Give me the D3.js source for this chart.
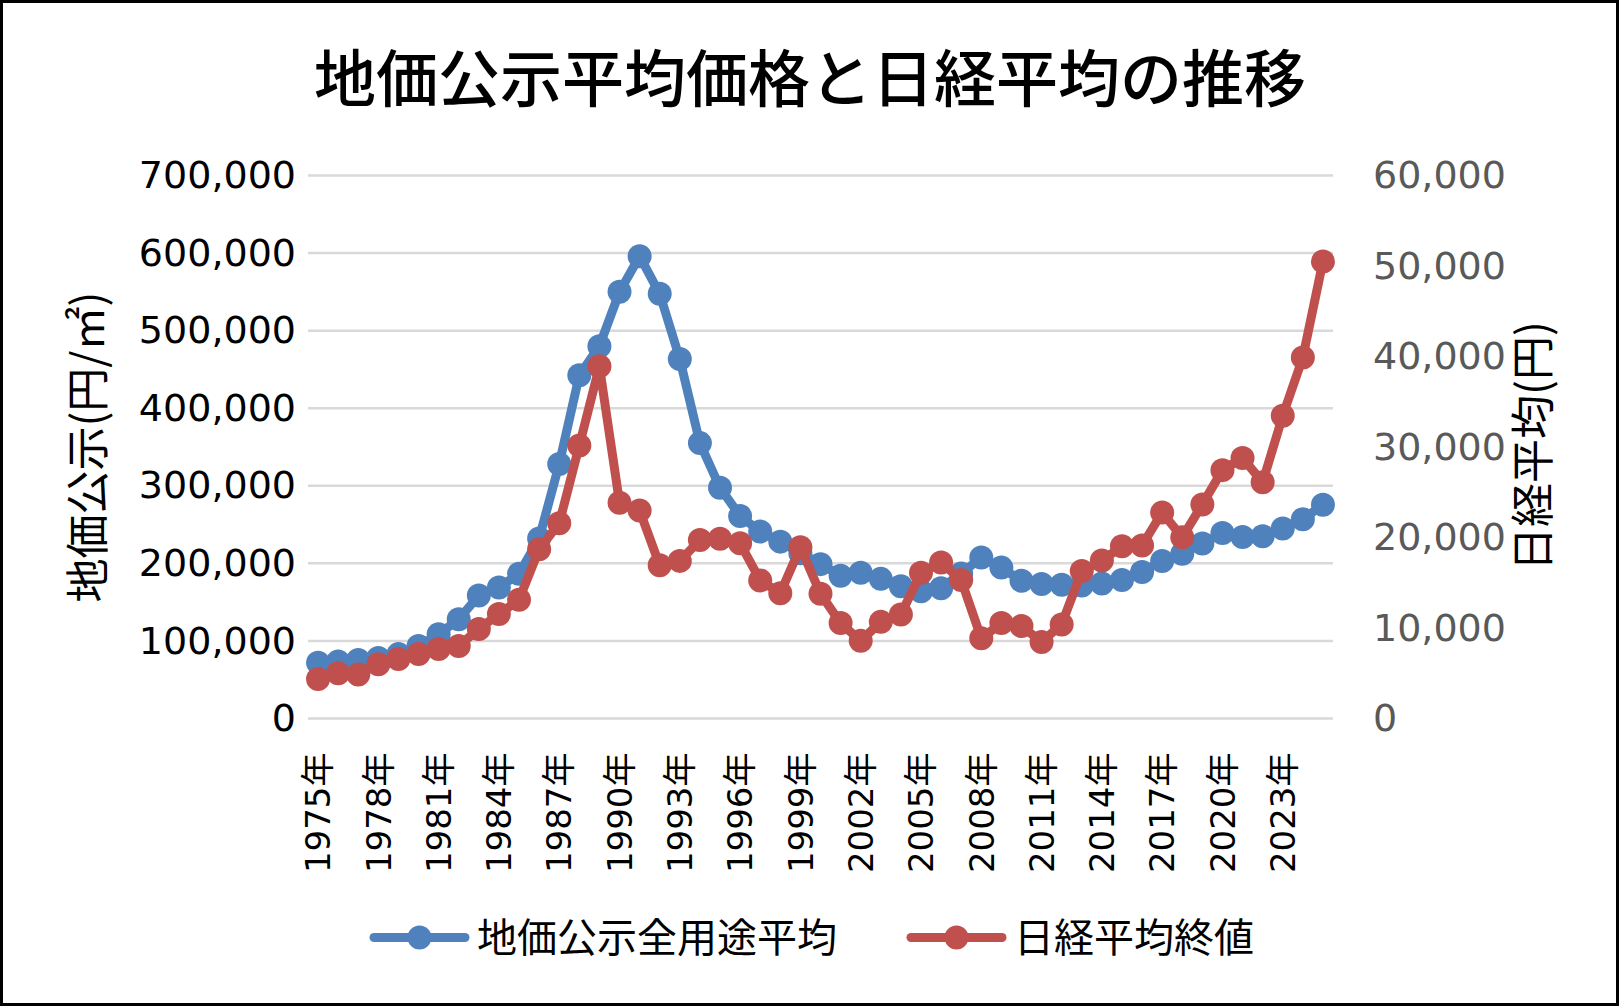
<!DOCTYPE html>
<html>
<head>
<meta charset="utf-8">
<script src="https://cdn.jsdelivr.net/npm/d3@7"></script>
<style>
  body { margin: 0; background: #fff; }
  svg { display: block; }
</style>
</head>
<body>
<svg id="chart" width="1619" height="1006"></svg>
<script>
// years on the category axis
const years = [1975, 1976, 1977, 1978, 1979, 1980, 1981, 1982, 1983, 1984,
  1985, 1986, 1987, 1988, 1989, 1990, 1991, 1992, 1993, 1994,
  1995, 1996, 1997, 1998, 1999, 2000, 2001, 2002, 2003, 2004,
  2005, 2006, 2007, 2008, 2009, 2010, 2011, 2012, 2013, 2014,
  2015, 2016, 2017, 2018, 2019, 2020, 2021, 2022, 2023, 2024, 2025];

// 地価公示全用途平均 (円/㎡)
const landPrice = [72000, 73500, 75500, 78000, 83000, 93500, 108500, 128000, 158500, 169000,
  186500, 232000, 328000, 442500, 480000, 550000, 596000, 547500, 463500, 355000,
  297500, 261000, 241000, 228000, 213000, 199000, 184000, 188000, 180000, 170500,
  164000, 168000, 187000, 207500, 194500, 177500, 173500, 172500, 171500, 174000,
  178500, 189000, 203000, 212500, 225500, 239000, 234000, 235000, 245000, 257000, 275500];

// 日経平均終値 (円)
const nikkei = [4358, 4990, 4866, 6001, 6569, 7116, 7681, 8016, 9893, 11542,
  13113, 18701, 21564, 30159, 38916, 23849, 22984, 16925, 17417, 19723,
  19868, 19361, 15259, 13842, 18934, 13786, 10543, 8579, 10677, 11489,
  16111, 17226, 15308, 8860, 10546, 10229, 8455, 10395, 16291, 17451,
  19034, 19114, 22765, 20015, 23657, 27444, 28792, 26095, 33464, 39895, 50500];

const leftTicks = [0, 100000, 200000, 300000, 400000, 500000, 600000, 700000];
const rightTicks = [0, 10000, 20000, 30000, 40000, 50000, 60000];
const labelYears = [1975, 1978, 1981, 1984, 1987, 1990, 1993, 1996, 1999,
  2002, 2005, 2008, 2011, 2014, 2017, 2020, 2023];

const seriesNames = ["地価公示全用途平均", "日経平均終値"];
const blue = "#4F81BD", red = "#C0504D";

const W = 1619, H = 1006;
const plot = {left: 308, right: 1333, top: 175.5, bottom: 718.5};
const jp = "'Noto Sans CJK JP', 'Noto Sans', sans-serif";
const num = "'DejaVu Sans', 'Noto Sans CJK JP', sans-serif";

const svg = d3.select("#chart");

// outer frame
svg.append("rect")
  .attr("x", 1.5).attr("y", 1.5)
  .attr("width", W - 3).attr("height", H - 3)
  .attr("fill", "#fff").attr("stroke", "#000").attr("stroke-width", 3);

const x = d3.scaleBand().domain(years).range([plot.left, plot.right]);
const cx = d => x(d) + x.bandwidth() / 2;
const yL = d3.scaleLinear().domain([0, 700000]).range([plot.bottom, plot.top]);
const yR = d3.scaleLinear().domain([0, 60000]).range([plot.bottom, plot.top]);

// gridlines
svg.append("g").selectAll("line")
  .data(leftTicks).join("line")
  .attr("x1", plot.left).attr("x2", plot.right)
  .attr("y1", d => yL(d)).attr("y2", d => yL(d))
  .attr("stroke", "#D9D9D9").attr("stroke-width", 2.5);

// left axis
svg.append("g")
  .attr("transform", `translate(${plot.left},0)`)
  .call(d3.axisLeft(yL).tickValues(leftTicks).tickFormat(d3.format(",")).tickSize(0).tickPadding(12))
  .call(g => g.select(".domain").remove())
  .selectAll("text")
  .attr("font-family", num).attr("font-size", 38).attr("fill", "#000");

// right axis
svg.append("g")
  .attr("transform", `translate(${plot.right},0)`)
  .call(d3.axisRight(yR).tickValues(rightTicks).tickFormat(d3.format(",")).tickSize(0).tickPadding(40))
  .call(g => g.select(".domain").remove())
  .selectAll("text")
  .attr("font-family", num).attr("font-size", 38).attr("fill", "#595959");

// category axis, rotated labels
svg.append("g")
  .attr("transform", `translate(0,${plot.bottom})`)
  .call(d3.axisBottom(x).tickValues(labelYears).tickFormat(d => d + "年").tickSize(0))
  .call(g => g.select(".domain").remove())
  .selectAll("text")
  .attr("font-family", num).attr("font-size", 34).attr("fill", "#000")
  .attr("transform", "rotate(-90)")
  .attr("x", -34).attr("y", 0).attr("dy", "0.36em")
  .attr("text-anchor", "end");

// series
function drawSeries(values, y, color) {
  const pts = years.map((yr, i) => [cx(yr), y(values[i])]);
  const g = svg.append("g");
  g.append("path")
    .attr("d", d3.line()(pts))
    .attr("fill", "none").attr("stroke", color)
    .attr("stroke-width", 9).attr("stroke-linejoin", "round").attr("stroke-linecap", "round");
  g.selectAll("circle").data(pts).join("circle")
    .attr("cx", d => d[0]).attr("cy", d => d[1]).attr("r", 12)
    .attr("fill", color);
}
drawSeries(landPrice, yL, blue);
drawSeries(nikkei, yR, red);

// title
svg.append("text")
  .attr("x", 810).attr("y", 80).attr("dy", "0.36em")
  .attr("text-anchor", "middle")
  .attr("font-family", jp).attr("font-size", 62).attr("font-weight", 500).attr("fill", "#000")
  .text("地価公示平均価格と日経平均の推移");

// axis titles
svg.append("text")
  .attr("transform", "translate(88,447) rotate(-90)")
  .attr("text-anchor", "middle").attr("dy", "0.36em")
  .attr("font-family", jp).attr("font-size", 44).attr("fill", "#000")
  .text("地価公示(円/㎡)");

svg.append("text")
  .attr("transform", "translate(1533,446) rotate(-90)")
  .attr("text-anchor", "middle").attr("dy", "0.36em")
  .attr("font-family", jp).attr("font-size", 44).attr("fill", "#000")
  .text("日経平均(円)");

// legend
const legendItems = [
  {name: seriesNames[0], color: blue, x0: 374},
  {name: seriesNames[1], color: red, x0: 911}
];
const ly = 937.5;
const lg = svg.append("g");
legendItems.forEach(it => {
  lg.append("line")
    .attr("x1", it.x0).attr("x2", it.x0 + 91)
    .attr("y1", ly).attr("y2", ly)
    .attr("stroke", it.color).attr("stroke-width", 9).attr("stroke-linecap", "round");
  lg.append("circle")
    .attr("cx", it.x0 + 45.5).attr("cy", ly).attr("r", 12).attr("fill", it.color);
  lg.append("text")
    .attr("x", it.x0 + 103).attr("y", ly).attr("dy", "0.36em")
    .attr("font-family", jp).attr("font-size", 40).attr("fill", "#000")
    .text(it.name);
});
</script>
</body>
</html>
